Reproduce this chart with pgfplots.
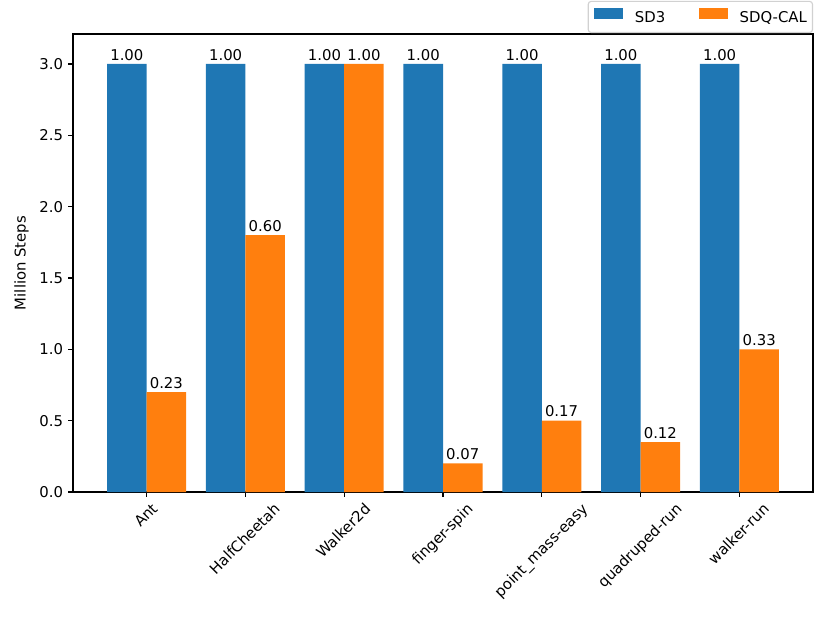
\documentclass[border=0pt]{standalone}
\usepackage{fontspec}
\setmainfont{DejaVu Sans}
\usepackage{graphicx}
\usepackage{pgfplots}
\pgfplotsset{compat=1.18}

\definecolor{c0}{HTML}{1F77B4}
\definecolor{c1}{HTML}{FF7F0E}

\newcommand{\fs}{\fontsize{10.7bp}{12.8bp}\selectfont}
% matplotlib-style centred rotated tick label
\newcommand{\tl}[1]{\rotatebox{45}{\vphantom{lp}#1}}

\begin{document}
\begin{tikzpicture}[font=\fs]
\begin{axis}[
    scale only axis,
    width=532.8bp, height=329.76bp,
    xmin=-0.745, xmax=6.745,
    ymin=0, ymax=3.21,
    ybar, bar width=0.4,
    axis line style={line width=0.8bp},
    tick align=outside, tick pos=left,
    major tick length=3.5bp,
    every tick/.style={black, line width=0.8bp},
    tick label style={font=\fs},
    label style={font=\fs},
    xtick={0,1,2,3,4,5,6},
    xticklabels={\tl{Ant},\tl{HalfCheetah},\tl{Walker2d},\tl{finger-spin},\tl{point\_mass-easy},\tl{quadruped-run},\tl{walker-run}},
    xticklabel style={anchor=north, inner sep=0pt, yshift=-3.5bp},
    ytick={0,0.5,1,1.5,2,2.5,3},
    yticklabel style={anchor=east, inner sep=0pt, xshift=-3.5bp,
        /pgf/number format/.cd, fixed, fixed zerofill, precision=1, assume math mode=true},
    every axis y label/.style={at={(axis description cs:-0.0696,0.5)}, rotate=90, anchor=center},
    ylabel={Million Steps},
    nodes near coords,
    point meta=explicit symbolic,
    every node near coord/.append style={black, font=\fs, inner sep=0pt, anchor=south, yshift=2.4bp},
    legend columns=2,
    legend style={at={(1,1)}, anchor=south east, yshift=0.7bp,
        draw=black!18, line width=0.8bp, rounded corners=2bp,
        inner xsep=4bp, inner ysep=5bp, font=\fs,
        nodes={inner sep=0pt, text height=7.8bp, text depth=2.5bp},
        /tikz/every odd column/.append style={column sep=8.6bp},
        /tikz/every even column/.append style={column sep=24bp}},
    legend image code/.code={\fill[#1,draw=none,sharp corners] (0bp,-0.8bp) rectangle (21bp,7.2bp);},
]
\addplot[fill=c0, draw=none, bar shift=-0.2]
    coordinates {(0,3.0) [1.00] (1,3.0) [1.00] (2,3.0) [1.00] (3,3.0) [1.00]
                 (4,3.0) [1.00] (5,3.0) [1.00] (6,3.0) [1.00]};
\addplot[fill=c1, draw=none, bar shift=0.2]
    coordinates {(0,0.7) [0.23] (1,1.8) [0.60] (2,3.0) [1.00] (3,0.2) [0.07]
                 (4,0.5) [0.17] (5,0.35) [0.12] (6,1.0) [0.33]};
\legend{SD3,SDQ-CAL}
\coordinate (sw) at (rel axis cs:0,0);
\coordinate (ne) at (rel axis cs:1,1);
\end{axis}
\pgfresetboundingbox
\path[use as bounding box] ([shift={(-52.56bp,-94.32bp)}]sw) rectangle ([shift={(12.24bp,24.48bp)}]ne);
\end{tikzpicture}
\end{document}
